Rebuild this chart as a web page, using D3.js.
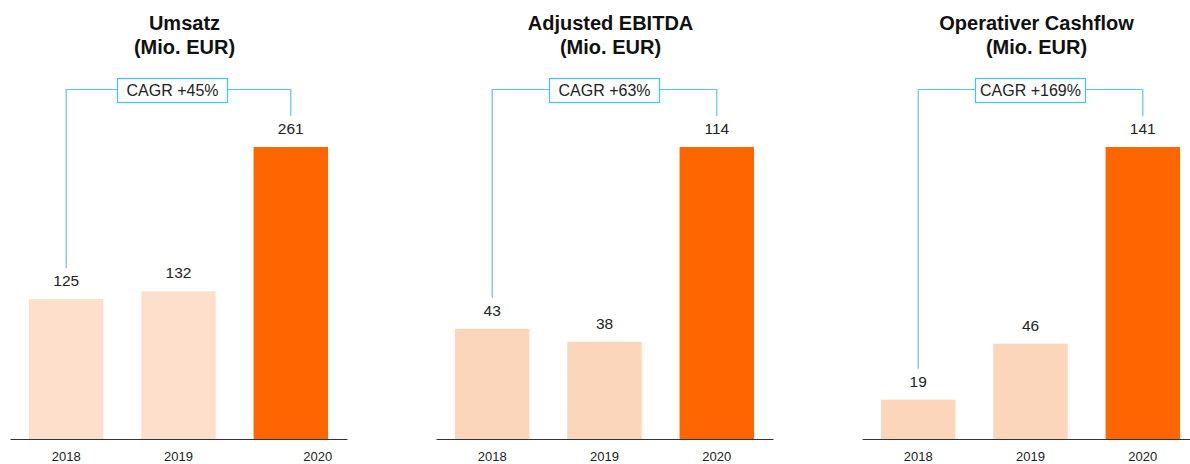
<!DOCTYPE html>
<html>
<head>
<meta charset="utf-8">
<script src="https://cdn.jsdelivr.net/npm/d3@7"></script>
<style>
    body { margin: 0; background: #fff; }
    svg { display: block; font-family: "Liberation Sans", Arial, sans-serif; }
</style>
</head>
<body>
<div id="chart"></div>
<script>
const years = ["2018", "2019", "2020"];
const titles = [
    ["Umsatz", "(Mio. EUR)"],
    ["Adjusted EBITDA", "(Mio. EUR)"],
    ["Operativer Cashflow", "(Mio. EUR)"],
];
const umsatz = [125, 132, 261];
const ebitda = [43, 38, 114];
const cashflow = [19, 46, 141];
const cagr = ["CAGR +45%", "CAGR +63%", "CAGR +169%"];

const series = [umsatz, ebitda, cashflow];

const width = 1190;
const height = 464;
const baseY = 439;
const topY = 147;
const panelStep = 426;
const panelW = 337;
const lightColors = ["#FDDFCC", "#FBD6BB", "#FBD6BB"];
const accent = "#FF6600";

const svg = d3.select("#chart")
    .append("svg")
    .attr("width", width)
    .attr("height", height);

series.forEach((values, i) => {
    const x0 = 10 + i * panelStep;

    const x = d3.scaleBand()
        .domain(years)
        .range([x0, x0 + panelW])
        .paddingInner(0.337)
        .paddingOuter(0.169);
    const y = d3.scaleLinear()
        .domain([0, d3.max(values)])
        .range([baseY, topY]);

    const g = svg.append("g");
    const data = years.map((yr, j) => ({ year: yr, value: values[j] }));

    // title
    const cx = x0 + panelW / 2 + 6;
    const title = g.append("text")
        .attr("text-anchor", "middle")
        .attr("font-weight", "bold")
        .attr("font-size", 20)
        .attr("fill", "#111");
    title.append("tspan").attr("x", cx).attr("y", 29.5).text(titles[i][0]);
    title.append("tspan").attr("x", cx).attr("y", 53.5).text(titles[i][1]);

    // bars
    g.selectAll("rect.bar")
        .data(data)
        .join("rect")
        .attr("class", "bar")
        .attr("x", d => x(d.year))
        .attr("y", d => y(d.value))
        .attr("width", x.bandwidth())
        .attr("height", d => y(0) - y(d.value))
        .attr("fill", (d, j) => j == years.length - 1 ? accent : lightColors[i]);

    // value labels
    g.selectAll("text.val")
        .data(data)
        .join("text")
        .attr("class", "val")
        .attr("x", d => x(d.year) + x.bandwidth() / 2)
        .attr("y", d => y(d.value) - 13)
        .attr("text-anchor", "middle")
        .attr("font-size", 15.5)
        .attr("fill", "#222")
        .text(d => d.value);

    // axis
    const gx = g.append("g")
        .attr("transform", `translate(0,${baseY})`)
        .call(d3.axisBottom(x).tickSize(0).tickSizeOuter(0).tickPadding(13));
    gx.select(".domain").attr("stroke", "#333");
    gx.selectAll("text")
        .attr("font-size", 13)
        .attr("font-family", "\"Liberation Sans\", Arial, sans-serif")
        .attr("fill", "#222")
        .attr("dx", (d) => (i == 0 && d == "2020") ? 27 : 0);

    // CAGR bracket
    const first = data[0], last = data[data.length - 1];
    const xa = x(first.year) + x.bandwidth() / 2;
    const xb = x(last.year) + x.bandwidth() / 2;
    const lineY = 89.5;
    g.append("path")
        .attr("d", d3.line()([
            [xa, y(first.value) - 31],
            [xa, lineY],
            [xb, lineY],
            [xb, y(last.value) - 31],
        ]))
        .attr("fill", "none")
        .attr("stroke", "#62C3E4")
        .attr("stroke-width", 1.2);

    const bw = 110, bh = 24;
    const bx = (xa + xb) / 2 - (i == 0 ? 6 : 0);
    g.append("rect")
        .attr("x", bx - bw / 2)
        .attr("y", 78.5)
        .attr("width", bw)
        .attr("height", bh)
        .attr("fill", "#fff")
        .attr("stroke", "#35CCF0")
        .attr("stroke-width", 1.2);
    g.append("text")
        .attr("x", bx)
        .attr("y", 96)
        .attr("text-anchor", "middle")
        .attr("font-size", 16)
        .attr("fill", "#222")
        .text(cagr[i]);
});
</script>
</body>
</html>
